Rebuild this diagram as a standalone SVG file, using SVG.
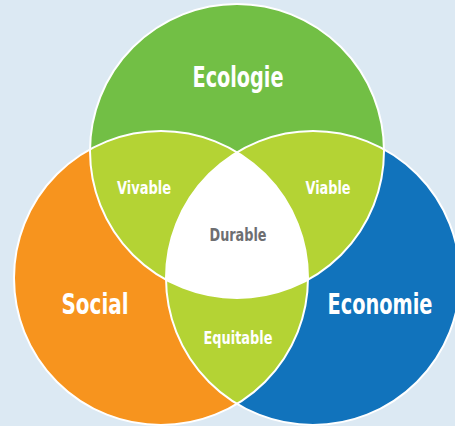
<svg xmlns="http://www.w3.org/2000/svg" width="455" height="426" viewBox="0 0 455 426">
<style>
.lbl{font-family:"DejaVu Sans Condensed","DejaVu Sans","Liberation Sans",sans-serif;font-weight:bold;text-anchor:middle;fill:#ffffff}
.big{font-size:28px}
.sm{font-size:17px}
.dur{fill:#6d6e71}
.ring{fill:none;stroke:#ffffff;stroke-width:2}
.inter{fill:#b4d334}
</style>
<defs>
<clipPath id="cE"><circle cx="237" cy="151" r="147"/></clipPath>
<clipPath id="cS"><circle cx="161" cy="278" r="147"/></clipPath>
<clipPath id="cC"><circle cx="313" cy="278" r="147"/></clipPath>
</defs>
<rect width="455" height="426" fill="#dce9f3"/>
<g id="ecologie">
<circle cx="237" cy="151" r="147" fill="#72bf45"/>
</g>
<g id="social">
<circle cx="161" cy="278" r="147" fill="#f7941e"/>
</g>
<g id="economie">
<circle cx="313" cy="278" r="147" fill="#1173bc"/>
</g>
<g id="vivable">
<g clip-path="url(#cE)"><circle cx="161" cy="278" r="147" class="inter"/></g>
</g>
<g id="viable">
<g clip-path="url(#cE)"><circle cx="313" cy="278" r="147" class="inter"/></g>
</g>
<g id="equitable">
<g clip-path="url(#cS)"><circle cx="313" cy="278" r="147" class="inter"/></g>
</g>
<g id="durable">
<g clip-path="url(#cE)"><g clip-path="url(#cS)"><circle cx="313" cy="278" r="147" fill="#ffffff"/></g></g>
</g>
<g id="connectors">
<circle cx="237" cy="151" r="147" class="ring"/>
<circle cx="161" cy="278" r="147" class="ring"/>
<circle cx="313" cy="278" r="147" class="ring"/>
</g>
<g id="labels">
<text class="lbl big" x="238" y="87" textLength="91" lengthAdjust="spacingAndGlyphs">Ecologie</text>
<text class="lbl big" x="95" y="314" textLength="67" lengthAdjust="spacingAndGlyphs">Social</text>
<text class="lbl big" x="380" y="314" textLength="105" lengthAdjust="spacingAndGlyphs">Economie</text>
<text class="lbl sm" x="144" y="194" textLength="54" lengthAdjust="spacingAndGlyphs">Vivable</text>
<text class="lbl sm" x="328" y="194" textLength="45" lengthAdjust="spacingAndGlyphs">Viable</text>
<text class="lbl sm dur" x="238" y="241" textLength="57" lengthAdjust="spacingAndGlyphs">Durable</text>
<text class="lbl sm" x="238" y="344" textLength="69" lengthAdjust="spacingAndGlyphs">Equitable</text>
</g>
</svg>
